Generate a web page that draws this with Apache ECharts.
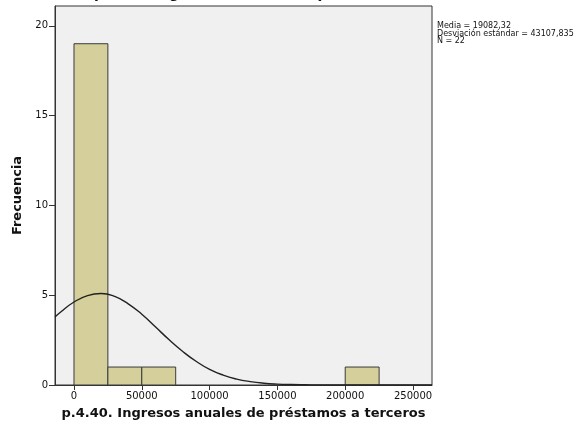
<!DOCTYPE html>
<html><head><meta charset="utf-8">
<script src="https://cdn.jsdelivr.net/npm/echarts@6/dist/echarts.min.js"></script>
<style>html,body{margin:0;padding:0;background:#fff}#c{width:576px;height:428px}</style>
</head><body><div id="c"></div>
<script>
// Histogram bins: [start, end]
const binStarts = [0, 25000, 50000, 200000];
const binEnds = [25000, 50000, 75000, 225000];
const binCounts = [19, 1, 1, 1];
// Normal curve points
const curveX = [-14000,-10000,0,10000,20000,30000,40000,50000,60000,70000,80000,90000,100000,110000,120000,130000,140000,150000,160000,170000,180000,190000,200000,220000,240000,264000];
const curveY = [3.79,4.05,4.62,4.98,5.09,4.93,4.52,3.94,3.24,2.53,1.88,1.32,0.87,0.55,0.33,0.19,0.10,0.05,0.024,0.011,0.005,0.002,0.001,0,0,0];
const xTicks = [0, 50000, 100000, 150000, 200000, 250000];
const yTicks = [0, 5, 10, 15, 20];
const titleText = 'p.4.40. Ingresos anuales de préstamos a terceros';
const statsLines = ['Media = 19082,32', 'Desviación estándar = 43107,835', 'N = 22'];

const chart = echarts.init(document.getElementById('c'), null, {renderer: 'canvas'});
const font = 'DejaVu Sans';
chart.setOption({
  animation: false,
  backgroundColor: '#ffffff',
  title: {
    text: titleText, left: 285, textAlign: 'center', top: -17.5,
    textStyle: {fontFamily: font, fontSize: 14, fontWeight: 'bold', color: '#111'}
  },
  graphic: [{
    type: 'text', left: 437, top: 22,
    style: {text: statsLines.join('\n'), font: '8px "DejaVu Sans"', fill: '#111', lineHeight: 7.5}
  }],
  grid: {left: 55, right: 144, top: 6, bottom: 43, show: true, backgroundColor: '#f0f0f0', borderColor: '#333', borderWidth: 1},
  xAxis: {
    type: 'value', min: -14000, max: 264000,
    name: titleText, nameLocation: 'middle', nameGap: 22,
    nameTextStyle: {fontFamily: font, fontSize: 13, fontWeight: 'bold', color: '#111'},
    splitLine: {show: false},
    axisLine: {show: true, onZero: false, lineStyle: {color: '#333'}},
    axisTick: {show: true, length: 5, customValues: xTicks, lineStyle: {color: '#333'}},
    axisLabel: {customValues: xTicks, fontFamily: font, fontSize: 10, color: '#111', margin: 6, formatter: v => String(v)}
  },
  yAxis: {
    type: 'value', min: 0, max: 21.1,
    name: 'Frecuencia', nameLocation: 'middle', nameGap: 28, nameRotate: 90,
    nameTextStyle: {fontFamily: font, fontSize: 13, fontWeight: 'bold', color: '#111'},
    splitLine: {show: false},
    axisLine: {show: true, onZero: false, lineStyle: {color: '#333'}},
    axisTick: {show: true, length: 6, customValues: yTicks, lineStyle: {color: '#333'}},
    axisLabel: {customValues: yTicks, fontFamily: font, fontSize: 10, color: '#111', margin: 7}
  },
  series: [{
    type: 'custom',
    data: binStarts.map((s, i) => [s, binEnds[i], binCounts[i]]),
    renderItem: function (params, api) {
      const p0 = api.coord([api.value(0), 0]);
      const p1 = api.coord([api.value(1), api.value(2)]);
      return {type: 'rect', shape: {x: p0[0], y: p1[1], width: p1[0] - p0[0], height: p0[1] - p1[1]},
        style: {fill: '#d4cf9b', stroke: '#3a3a3a', lineWidth: 1}};
    },
    encode: {x: [0, 1], y: 2}
  }, {
    type: 'line', smooth: true, showSymbol: false, symbol: 'none',
    data: curveX.map((x, i) => [x, curveY[i]]),
    lineStyle: {color: '#222', width: 1.4}
  }]
});
</script></body></html>
